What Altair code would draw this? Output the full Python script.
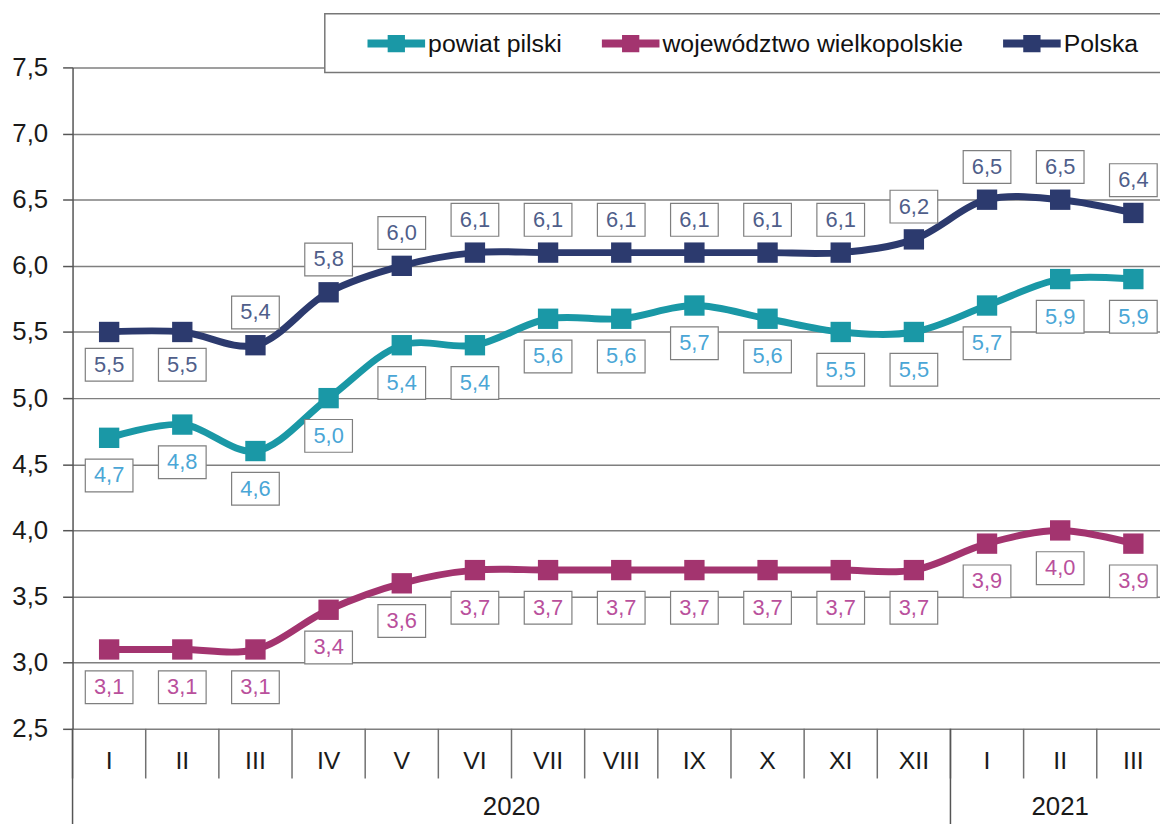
import altair as alt
import pandas as pd

# ---- data ----
months = ["I", "II", "III", "IV", "V", "VI", "VII", "VIII", "IX", "X", "XI", "XII", "I", "II", "III"]
years = [2020] * 12 + [2021] * 3
keys = [f"{y}-{m}" for y, m in zip(years, months)]

series_names = ["powiat pilski", "województwo wielkopolskie", "Polska"]
powiat = [4.7, 4.8, 4.6, 5.0, 5.4, 5.4, 5.6, 5.6, 5.7, 5.6, 5.5, 5.5, 5.7, 5.9, 5.9]
wojewodztwo = [3.1, 3.1, 3.1, 3.4, 3.6, 3.7, 3.7, 3.7, 3.7, 3.7, 3.7, 3.7, 3.9, 4.0, 3.9]
polska = [5.5, 5.5, 5.4, 5.8, 6.0, 6.1, 6.1, 6.1, 6.1, 6.1, 6.1, 6.2, 6.5, 6.5, 6.4]
y_ticks = [2.5, 3.0, 3.5, 4.0, 4.5, 5.0, 5.5, 6.0, 6.5, 7.0, 7.5]

line_colors = ["#1a98a6", "#a3346f", "#2c3a6e"]
label_colors = ["#4aa6d6", "#b9509c", "#4f5e8a"]

rows = []
for name, vals in zip(series_names, [powiat, wojewodztwo, polska]):
    for i, (k, v) in enumerate(zip(keys, vals)):
        above = (name == "Polska") and i >= 2
        rows.append({"series": name, "key": k, "v": v,
                     "place": "above" if above else ("below_p" if name == "Polska" else "below")})
df = pd.DataFrame(rows)
months_df = pd.DataFrame({"key": keys, "label": months, "year": years})
years_df = pd.DataFrame({"key": ["2020-VI", "2021-II"], "label": ["2020", "2021"]})

FONT = "Liberation Sans"
PLOT_W, PLOT_H = 1095, 666
xscale = alt.Scale(domain=keys, range=[0, 1105], paddingInner=0, paddingOuter=0)


def X(**kw):
    return alt.X("key:N", scale=xscale, axis=None, **kw)


yenc = alt.Y("v:Q", scale=alt.Scale(domain=[2.5, 7.5], nice=False, zero=False),
             axis=alt.Axis(values=y_ticks, title=None,
                           labelExpr="replace(format(datum.value, '.1f'), '.', ',')",
                           labelFont=FONT, labelFontSize=26, labelColor="#1a1a1a",
                           labelPadding=15, tickSize=10, tickColor="#555", tickWidth=1.5,
                           domainColor="#555", domainWidth=1.5,
                           gridColor="#7f7f7f", gridWidth=1.5))

legend_box = alt.Chart(pd.DataFrame({"a": [0]})).mark_rect(
    fill="white", stroke="#777", strokeWidth=1.5).encode(
    x=alt.value(254), x2=alt.value(1200), y=alt.value(-54), y2=alt.value(5))

base = alt.Chart(df)

color_scale = alt.Scale(domain=series_names, range=line_colors)
legend_path = ("M-1,-0.14L1,-0.14L1,0.14L-1,0.14Z "
               "M-0.3,-0.3L0.3,-0.3L0.3,0.3L-0.3,0.3Z")
legend = alt.Legend(orient="none", legendX=297, legendY=-53, direction="horizontal",
                    title=None, symbolType=legend_path, symbolSize=3364,
                    symbolStrokeWidth=0, symbolOpacity=1, labelFont=FONT, labelFontSize=25,
                    labelColor="#111", labelOffset=3, columnPadding=40, labelLimit=500,
                    padding=0, zindex=2)

lines = base.mark_line(strokeWidth=7, interpolate="catmull-rom").encode(
    x=X(), y=yenc,
    color=alt.Color("series:N", scale=color_scale, legend=legend),
)

points = base.mark_point(shape="square", size=420, opacity=1, filled=True).encode(
    x=X(), y=alt.Y("v:Q"),
    color=alt.Color("series:N", scale=color_scale, legend=legend),
)

box_path = "M-1,-0.6875L1,-0.6875L1,0.6875L-1,0.6875Z"
offsets = {"above": -33, "below_p": 33, "below": 38}
label_layers = []
for place, off in offsets.items():
    sub = base.transform_filter(alt.datum.place == place)
    label_layers.append(sub.mark_point(shape=box_path, size=2304, filled=True, fill="white",
                                       stroke="#7f7f7f", strokeWidth=1.2, opacity=1,
                                       yOffset=off).encode(x=X(), y=alt.Y("v:Q")))
    for name, lc in zip(series_names, label_colors):
        label_layers.append(sub.transform_filter(alt.datum.series == name).transform_calculate(
            txt="replace(format(datum.v, '.1f'), '.', ',')"
        ).mark_text(font=FONT, fontSize=22, baseline="middle", align="center", yOffset=off,
                    color=lc).encode(x=X(), y=alt.Y("v:Q"), text="txt:N"))

month_labels = alt.Chart(months_df).mark_text(font=FONT, fontSize=25, color="#1a1a1a",
                                               baseline="middle").encode(
    x=X(), y=alt.value(PLOT_H + 32), text="label:N")

seps = alt.Chart(months_df).mark_rule(color="#707070", strokeWidth=1.5).encode(
    x=X(bandPosition=0), y=alt.value(PLOT_H), y2=alt.value(PLOT_H + 50))

year_starts = alt.Chart(months_df).transform_filter(alt.datum.label == "I").mark_rule(
    color="#555", strokeWidth=1.5).encode(
    x=X(bandPosition=0), y=alt.value(PLOT_H), y2=alt.value(PLOT_H + 100))

year2020 = alt.Chart(years_df).transform_filter(alt.datum.label == "2020").mark_text(
    font=FONT, fontSize=26, color="#1a1a1a", baseline="middle").encode(
    x=X(bandPosition=1), y=alt.value(PLOT_H + 79), text="label:N")
year2021 = alt.Chart(years_df).transform_filter(alt.datum.label == "2021").mark_text(
    font=FONT, fontSize=26, color="#1a1a1a", baseline="middle").encode(
    x=X(), y=alt.value(PLOT_H + 79), text="label:N")

chart = alt.layer(
    legend_box, lines, points, *label_layers, month_labels, seps, year_starts, year2020, year2021
).properties(
    width=PLOT_W, height=PLOT_H,
    autosize=alt.AutoSizeParams(type="none"),
    padding={"left": 65, "top": 57, "right": 0, "bottom": 93},
    background="white",
).configure_view(stroke=None)

chart.save("out.html", embed_options={"renderer": "svg", "actions": False})
